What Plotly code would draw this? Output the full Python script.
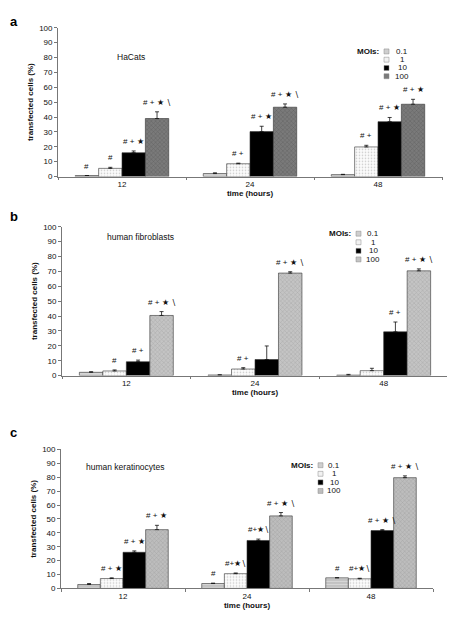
import plotly.graph_objects as go

# ---------------- data ----------------
times = ["12", "24", "48"]
mois = ["0.1", "1", "10", "100"]

a_vals = {"0.1": [0.7, 2.0, 1.3], "1": [5.5, 8.6, 19.9], "10": [16.0, 30.2, 36.9], "100": [39.0, 46.6, 48.6]}
a_errs = {"0.1": [0.0, 0.5, 0.2], "1": [0.7, 0.4, 1.1], "10": [1.2, 3.6, 2.8], "100": [4.5, 2.2, 3.3]}
a_sig = {"0.1": ["#", "", ""], "1": ["#", "# +", "# +"], "10": ["# + ★", "# + ★", "# + ★"],
         "100": ["# + ★ ∖", "# + ★ ∖", "# + ★"]}

b_vals = {"0.1": [2.2, 0.4, 0.3], "1": [3.1, 4.4, 3.3], "10": [9.3, 10.8, 29.4], "100": [40.4, 68.9, 70.4]}
b_errs = {"0.1": [0.4, 0.1, 0.5], "1": [0.7, 0.9, 1.6], "10": [1.1, 9.1, 6.6], "100": [2.6, 0.9, 1.3]}
b_sig = {"0.1": ["", "", ""], "1": ["#", "# +", ""], "10": ["# +", "", "# +"],
         "100": ["# + ★ ∖", "# + ★ ∖", "# + ★ ∖"]}

c_vals = {"0.1": [2.8, 3.5, 7.6], "1": [7.1, 10.6, 6.9], "10": [26.0, 34.5, 41.6], "100": [42.3, 52.2, 79.7]}
c_errs = {"0.1": [0.7, 0.3, 0.1], "1": [0.5, 0.5, 0.4], "10": [1.0, 1.0, 0.7], "100": [3.1, 2.4, 1.3]}
c_sig = {"0.1": ["", "#", "#"], "1": ["# + ★", "#+★∖", "#+★∖"], "10": ["# + ★", "#+★∖", "# + ★ ∖"],
         "100": ["# + ★", "# + ★ ∖", "# + ★ ∖"]}

panel_titles = ["HaCats", "human fibroblasts", "human keratinocytes"]
panel_letters = ["a", "b", "c"]
y_ticks = [0, 10, 20, 30, 40, 50, 60, 70, 80, 90, 100]

# ---------------- styling ----------------
OFF = 8                      # default page body margin
W, H = 455 - OFF, 620 - OFF
FONT = "Liberation Sans, Arial, sans-serif"
BARGAP = 0.27

def px_x(p):
    return (p - OFF) / W

def px_y(p):
    return 1 - (p - OFF) / H

panels = [
    dict(vals=a_vals, errs=a_errs, sig=a_sig, x=(58, 442), y=(24, 175),
         c100="#7a7a7a", p100="#4a4a4a", title_pos=(131, 54), letter_top=8,
         leg=(381, 48, 8.4, 402)),
    dict(vals=b_vals, errs=b_errs, sig=b_sig, x=(62, 448), y=(226, 377),
         c100="#c4c4c4", p100="#909090", title_pos=(140, 236), letter_top=206,
         leg=(353, 233, 8.7, 373)),
    dict(vals=c_vals, errs=c_errs, sig=c_sig, x=(61, 433), y=(452, 593),
         c100="#bdbdbd", p100="#8c8c8c", title_pos=(125, 470), letter_top=425,
         leg=(315, 468, 8.7, 334)),
]

fig = go.Figure()
annotations = []
shapes = []

for k, P in enumerate(panels):
    xa = "x" if k == 0 else f"x{k+1}"
    ya = "y" if k == 0 else f"y{k+1}"
    styles = {
        "0.1": dict(color="#d6d6d6", pattern=dict(shape="-", fgcolor="#8a8a8a", size=3, solidity=0.35)),
        "1": dict(color="#fbfbfb", pattern=dict(shape=".", fgcolor="#9a9a9a", size=3, solidity=0.25)),
        "10": dict(color="#000000"),
        "100": dict(color=P["c100"], pattern=dict(shape="x", fgcolor=P["p100"], size=3, solidity=0.3)),
    }
    for m in mois:
        fig.add_trace(go.Bar(
            x=times, y=P["vals"][m], name=m, xaxis=xa, yaxis=ya, showlegend=False,
            offsetgroup=m,
            marker=dict(**styles[m], line=dict(color="#333333", width=0.6)),
            error_y=dict(type="data", array=P["errs"][m], symmetric=False,
                         arrayminus=[0, 0, 0], color="#111111", thickness=0.8, width=2),
        ))
    # significance marks above bars (positions in data coordinates)
    bw = (1 - BARGAP) / len(mois)
    for j, m in enumerate(mois):
        for i, t in enumerate(times):
            txt = P["sig"][m][i]
            if not txt:
                continue
            annotations.append(dict(
                x=i + (j - 1.5) * bw, y=P["vals"][m][i] + P["errs"][m][i],
                xref=xa, yref=ya, text=txt, showarrow=False, yanchor="bottom",
                yshift=3, font=dict(family=FONT, size=8, color="#111")))
    # panel inner title
    tx, ty = P["title_pos"]
    annotations.append(dict(x=px_x(tx), y=px_y(ty), xref="paper", yref="paper",
                            text=panel_titles[k], showarrow=False, xanchor="center",
                            yanchor="middle", font=dict(family=FONT, size=8.5, color="#111")))
    # panel letter
    annotations.append(dict(x=0, y=min(px_y(P["letter_top"]), 1), xref="paper", yref="paper",
                            text=f"<b>{panel_letters[k]}</b>", showarrow=False, xanchor="left",
                            yanchor="top", font=dict(family=FONT, size=13, color="#000")))
    # legend
    lx, ly, dy, labx = P["leg"]
    annotations.append(dict(x=px_x(lx), y=px_y(ly), xref="paper", yref="paper",
                            text="<b>MOIs:</b>", showarrow=False, xanchor="right",
                            yanchor="middle", font=dict(family=FONT, size=8, color="#111")))
    sw_fill = {"0.1": "#cfcfcf", "1": "#f2f2f2", "10": "#000000", "100": P["c100"]}
    for j, m in enumerate(mois):
        yy = ly + j * dy
        shapes.append(dict(type="rect", xref="paper", yref="paper",
                           x0=px_x(lx + 3), x1=px_x(lx + 8), y0=px_y(yy - 2.5), y1=px_y(yy + 2.5),
                           fillcolor=sw_fill[m], line=dict(color="#888888", width=0.5)))
        annotations.append(dict(x=px_x(labx), y=px_y(yy), xref="paper", yref="paper",
                                text=m, showarrow=False, xanchor="center", yanchor="middle",
                                font=dict(family=FONT, size=8, color="#111")))

    x0, x1 = P["x"]
    y0, y1 = P["y"]
    xkey = "xaxis" if k == 0 else f"xaxis{k+1}"
    ykey = "yaxis" if k == 0 else f"yaxis{k+1}"
    fig.update_layout(**{
        xkey: dict(domain=[px_x(x0), min(px_x(x1), 1)], anchor=ya, type="category",
                   range=[-0.5, 2.5], showline=True, linecolor="#777", linewidth=0.8,
                   ticks="outside", tickson="boundaries", ticklen=3, tickcolor="#777",
                   showgrid=False, zeroline=False,
                   tickfont=dict(family=FONT, size=8, color="#111"),
                   title=dict(text="<b>time (hours)</b>", standoff=2,
                              font=dict(family=FONT, size=8, color="#111"))),
        ykey: dict(domain=[px_y(y1), px_y(y0)], anchor=xa, range=[0, 100],
                   tickvals=y_ticks, showline=True, linecolor="#777", linewidth=0.8,
                   ticks="outside", ticklen=3, tickcolor="#777", showgrid=False,
                   zeroline=False, tickfont=dict(family=FONT, size=8, color="#111"),
                   title=dict(text="<b>transfected cells (%)</b>", standoff=4,
                              font=dict(family=FONT, size=8, color="#111"))),
    })

fig.update_layout(
    width=W, height=H, margin=dict(l=0, r=0, t=0, b=0),
    paper_bgcolor="white", plot_bgcolor="white",
    barmode="group", bargap=BARGAP, bargroupgap=0,
    annotations=annotations, shapes=shapes, showlegend=False,
)

fig.write_html("out.html")
